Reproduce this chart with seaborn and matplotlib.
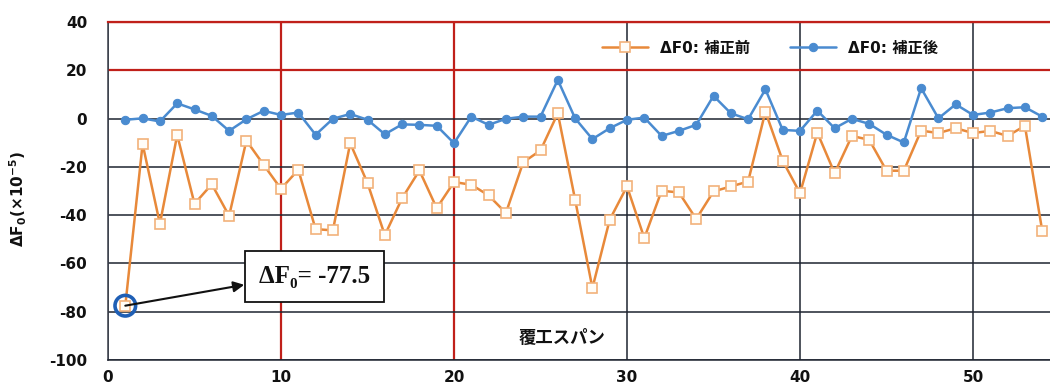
import numpy as np
import pandas as pd
import matplotlib
matplotlib.use("Agg")
import matplotlib.pyplot as plt
import seaborn as sns

# Lining span numbers and the ΔF0 values (×10^-5) before and after correction
span = list(range(1, 55))
before = [-77.5, -10.5, -43.6, -6.8, -35.3, -27.2, -40.3, -9.1, -19.2, -29.1,
          -21.2, -45.8, -46.3, -10.2, -26.7, -48.3, -33.0, -21.5, -37.1, -26.3,
          -27.4, -31.8, -39.1, -18.1, -13.2, 2.2, -33.6, -70.2, -41.9, -28.1,
          -49.5, -29.9, -30.6, -41.6, -30.2, -28.1, -26.1, 2.9, -17.5, -30.9,
          -5.8, -22.6, -7.2, -8.8, -21.6, -21.6, -5.0, -6.0, -4.0, -6.0,
          -5.1, -7.2, -3.0, -46.5]
after = [-0.5, 0.1, -1.2, 6.3, 3.8, 1.1, -5.1, -0.3, 3.2, 1.5,
         2.5, -6.7, -0.1, 1.9, -0.5, -6.5, -2.4, -2.6, -3.0, -10.2,
         0.8, -2.6, -0.1, 0.8, 0.8, 16.0, 0.1, -8.5, -4.0, -0.5,
         0.4, -7.2, -5.1, -2.6, 9.4, 2.2, -0.3, 12.1, -4.7, -5.1,
         3.3, -4.0, -0.1, -2.2, -6.7, -9.9, 12.6, 0.1, 5.9, 1.5,
         2.5, 4.3, 4.7, 0.8]

series_labels = ["ΔF0: 補正前", "ΔF0: 補正後"]
x_ticks = [0, 10, 20, 30, 40, 50]
y_ticks = [-100, -80, -60, -40, -20, 0, 20, 40]
red_x = [10, 20]
red_y = [20, 40]
x_label = "覆工スパン"
y_label = r"ΔF$_\mathbf{0}$(×10$^\mathbf{-5}$)"
note_text = "ΔF₀= -77.5"

sns.set_theme(style="white")
plt.rcParams["font.family"] = ["DejaVu Sans", "Noto Sans CJK JP"]
plt.rcParams["mathtext.fontset"] = "dejavusans"
plt.rcParams["axes.unicode_minus"] = False

df = pd.DataFrame({"span": span, "before": before, "after": after})

fig = plt.figure(figsize=(10.5, 3.92), dpi=100)
ax = fig.add_axes([108 / 1050, 0.0816, 1 - 108 / 1050, 0.8623])

orange = "#E8893A"
blue = "#4A8BD0"
dark = "#1E2430"
red = "#C0201A"

sns.lineplot(data=df, x="span", y="before", ax=ax, color=orange, linewidth=1.8,
             marker="s", markersize=7, markerfacecolor="#FFFDF8",
             markeredgecolor="#F2B27A", markeredgewidth=1.2,
             label=series_labels[0], zorder=4)
sns.lineplot(data=df, x="span", y="after", ax=ax, color=blue, linewidth=1.8,
             marker="o", markersize=6, markerfacecolor=blue,
             markeredgecolor=blue, label=series_labels[1], zorder=5)

ax.set_xlim(0, 54.45)
ax.set_ylim(-100, 40)
ax.set_xticks(x_ticks)
ax.set_yticks(y_ticks)
ax.set_xlabel("")
ax.set_ylabel(y_label, fontsize=11, fontweight="bold", color="#111111")
ax.yaxis.set_label_coords(-0.084, 0.476)

ax.grid(True, color=dark, linewidth=1.1)
ax.set_axisbelow(True)
for val, line in zip(y_ticks, ax.get_ygridlines()):
    if val in red_y:
        line.set_color(red)
        line.set_linewidth(1.6)
for val, line in zip(x_ticks, ax.get_xgridlines()):
    if val in red_x:
        line.set_color(red)
        line.set_linewidth(1.6)

ax.spines["right"].set_visible(False)
ax.spines["top"].set_color(red)
ax.spines["top"].set_linewidth(1.6)
ax.spines["left"].set_color("#3A3F4A")
ax.spines["bottom"].set_color(dark)
for s in ("left", "bottom"):
    ax.spines[s].set_linewidth(1.1)

ax.tick_params(axis="y", length=0, pad=15, labelsize=11, labelcolor="#111111")
ax.tick_params(axis="x", length=0, pad=7, labelsize=11, labelcolor="#111111")
for lbl in ax.get_xticklabels() + ax.get_yticklabels():
    lbl.set_fontweight("bold")

# Span axis title placed inside the plot area
ax.text(0.482, 0.065, x_label, transform=ax.transAxes, ha="center", va="center",
        fontsize=12.5, fontweight="bold", color="#111111",
        family=["Noto Sans CJK JP"])

# Highlight the first span and call out its value
ax.scatter([span[0]], [before[0]], s=220, facecolor="none", edgecolor="#1F5FB5",
           linewidth=2.6, zorder=6)
ax.annotate(note_text, xy=(span[0], before[0]), xytext=(96, 21),
            textcoords="offset points", ha="left", va="center",
            fontsize=18, fontweight="bold", color="#111111",
            family=["Liberation Serif", "DejaVu Serif"],
            bbox=dict(boxstyle="square,pad=0.55", facecolor="white",
                      edgecolor="#111111", linewidth=1.3),
            arrowprops=dict(arrowstyle="<|-", color="#111111", lw=1.5,
                            mutation_scale=16, shrinkA=0, shrinkB=0,
                            relpos=(0.0, 0.25)),
            zorder=7)

leg = ax.legend(loc="center", bbox_to_anchor=(0.703, 0.923), ncol=2,
                frameon=False, fontsize=11, columnspacing=2.6,
                handlelength=3.0, handletextpad=0.8)
for t in leg.get_texts():
    t.set_fontweight("bold")
    t.set_color("#111111")

fig.savefig("out.png", dpi=100)
